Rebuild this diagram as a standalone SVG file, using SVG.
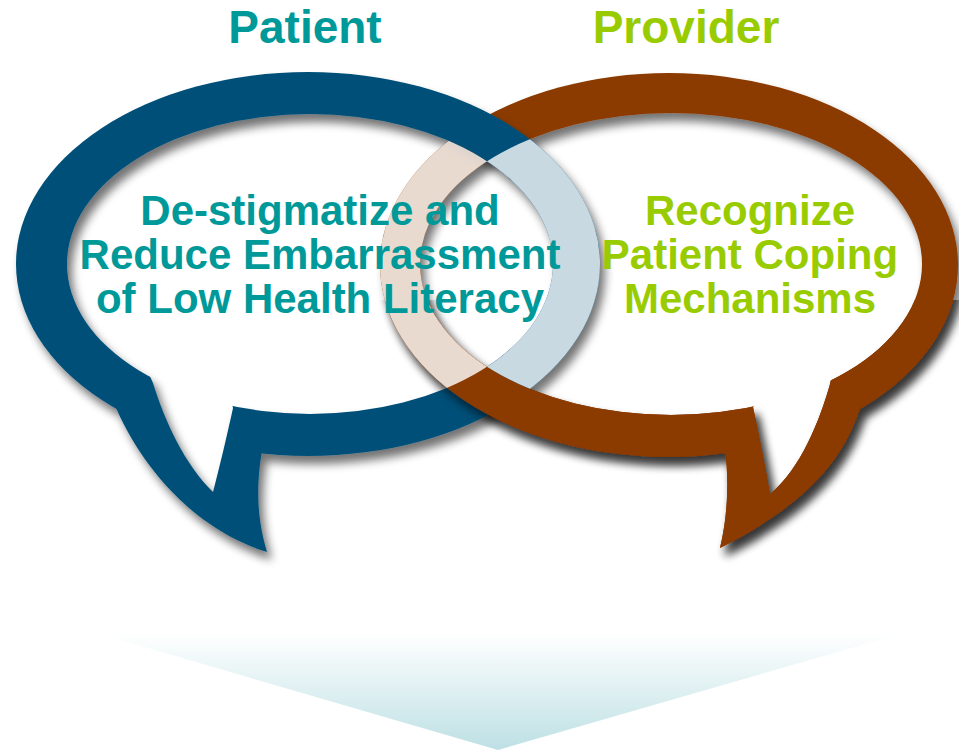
<svg xmlns="http://www.w3.org/2000/svg" width="959" height="753" viewBox="0 0 959 753">
<style>
.title{font-family:"Liberation Sans",Arial,sans-serif;font-weight:bold;font-size:46px;text-anchor:middle}
.body{font-family:"Liberation Sans",Arial,sans-serif;font-weight:bold;font-size:42px;text-anchor:middle}
.teal{fill:#009999}
.green{fill:#99cc00}
</style>
<defs>
<linearGradient id="arrowGrad" x1="0" y1="634" x2="0" y2="750" gradientUnits="userSpaceOnUse">
<stop offset="0" stop-color="#ffffff"/>
<stop offset="1" stop-color="#bde0e4"/>
</linearGradient>
<filter id="shadow" x="-10%" y="-10%" width="130%" height="130%">
<feGaussianBlur in="SourceAlpha" stdDeviation="5"/>
<feOffset dx="5" dy="8" result="b"/>
<feComponentTransfer><feFuncA type="linear" slope="0.55"/></feComponentTransfer>
<feMerge><feMergeNode/><feMergeNode in="SourceGraphic"/></feMerge>
</filter>
<!-- blue bubble geometry -->
<path id="blueOuterTail" d="M100 380 L117 410 C140 462 190 528 267 552 C257 518 255 485 264 440 L200 380 Z"/>
<path id="blueInnerTail" d="M145 365 L153 383 C165 422 185 465 213 492 C220 465 226 440 233 408 L220 360 Z"/>
<path id="brownOuterTail" d="M868 385 L860 409 C847 445 825 495 720 548 C728 515 729 480 725 448 L780 400 Z"/>
<path id="brownInnerTail" d="M835 360 L830 384 C820 420 800 470 770 494 C765 465 760 440 753 407 L790 370 Z"/>
<mask id="blueRing" maskUnits="userSpaceOnUse" x="0" y="0" width="959" height="753">
<ellipse cx="308" cy="264" rx="292" ry="192" fill="#fff"/>
<use href="#blueOuterTail" fill="#fff"/>
<ellipse cx="310" cy="264" rx="243" ry="150" fill="#000"/>
<use href="#blueInnerTail" fill="#000"/>
</mask>
<mask id="brownRing" maskUnits="userSpaceOnUse" x="0" y="0" width="959" height="753">
<ellipse cx="669" cy="265" rx="289" ry="192" fill="#fff"/>
<use href="#brownOuterTail" fill="#fff"/>
<ellipse cx="671" cy="264" rx="251" ry="151" fill="#000"/>
<use href="#brownInnerTail" fill="#000"/>
</mask>
<clipPath id="blueInterior">
<ellipse cx="310" cy="264" rx="243" ry="150"/>
<use href="#blueInnerTail"/>
</clipPath>
<clipPath id="brownInterior">
<ellipse cx="671" cy="264" rx="251" ry="151"/>
<use href="#brownInnerTail"/>
</clipPath>
<clipPath id="lowerCross">
<rect x="0" y="300" width="959" height="453"/>
</clipPath>
</defs>
<rect width="959" height="753" fill="#ffffff"/>
<g id="arrow">
<polygon points="100,634 498,750 900,634" fill="url(#arrowGrad)"/>
</g>
<g id="provider-bubble">
<g filter="url(#shadow)"><rect width="959" height="753" fill="#8b3a06" mask="url(#brownRing)"/></g>
</g>
<g id="patient-bubble">
<g filter="url(#shadow)"><rect width="959" height="753" fill="#035078" mask="url(#blueRing)"/></g>
</g>
<g id="provider-bubble-front" clip-path="url(#lowerCross)">
<g filter="url(#shadow)"><rect width="959" height="753" fill="#8b3a06" mask="url(#brownRing)"/></g>
</g>
<g id="overlap">
<g clip-path="url(#blueInterior)"><rect width="959" height="753" fill="#ffffff" opacity="0.81" mask="url(#brownRing)"/></g>
<g clip-path="url(#brownInterior)"><rect width="959" height="753" fill="#ffffff" opacity="0.79" mask="url(#blueRing)"/></g>
</g>
<g id="patient-label">
<text class="title teal" x="305" y="43">Patient</text>
</g>
<g id="provider-label">
<text class="title green" x="686" y="43">Provider</text>
</g>
<g id="patient-text">
<text class="body teal" x="320" y="225">De-stigmatize and</text>
<text class="body teal" x="320" y="269">Reduce Embarrassment</text>
<text class="body teal" x="320" y="313">of Low Health Literacy</text>
</g>
<g id="provider-text">
<text class="body green" x="750" y="225">Recognize</text>
<text class="body green" x="750" y="269">Patient Coping</text>
<text class="body green" x="750" y="313">Mechanisms</text>
</g>
<g id="connectors"/>
</svg>
